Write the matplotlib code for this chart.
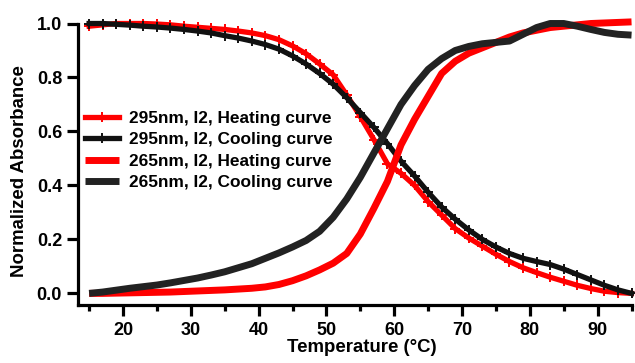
import matplotlib
matplotlib.use("Agg")
import matplotlib.pyplot as plt
from matplotlib.ticker import MultipleLocator

plt.rcParams['font.family'] = ['Liberation Sans', 'DejaVu Sans']
plt.rcParams['font.weight'] = 'bold'

temperature = list(range(15, 96, 2))

heat_295 = [0.99, 0.995, 1.0, 1.0, 1.0, 0.998, 0.995, 0.99, 0.986, 0.982,
            0.978, 0.972, 0.965, 0.955, 0.94, 0.917, 0.888, 0.85, 0.81, 0.735,
            0.655, 0.57, 0.48, 0.445, 0.40, 0.34, 0.29, 0.24, 0.205, 0.175,
            0.145, 0.118, 0.095, 0.077, 0.06, 0.045, 0.03, 0.018, 0.008, 0.003, 0.0]

cool_295 = [1.0, 1.0, 0.997, 0.994, 0.99, 0.987, 0.983, 0.978, 0.972, 0.965,
            0.955, 0.946, 0.935, 0.922, 0.905, 0.88, 0.85, 0.815, 0.775, 0.725,
            0.67, 0.615, 0.555, 0.49, 0.435, 0.375, 0.32, 0.275, 0.235, 0.2,
            0.172, 0.148, 0.13, 0.118, 0.107, 0.09, 0.07, 0.05, 0.03, 0.013, 0.0]

heat_265 = [0.0, 0.0, 0.001, 0.002, 0.003, 0.004, 0.005, 0.007, 0.009, 0.011,
            0.013, 0.016, 0.019, 0.024, 0.033, 0.047, 0.065, 0.087, 0.112, 0.148,
            0.22, 0.315, 0.415, 0.55, 0.645, 0.73, 0.815, 0.86, 0.89, 0.91,
            0.93, 0.95, 0.965, 0.975, 0.985, 0.99, 0.995, 1.0, 1.002, 1.004, 1.006]

cool_265 = [0.0, 0.005, 0.012, 0.019, 0.025, 0.031, 0.039, 0.048, 0.057, 0.068,
            0.08, 0.095, 0.11, 0.13, 0.15, 0.172, 0.196, 0.23, 0.282, 0.35,
            0.43, 0.52, 0.61, 0.70, 0.77, 0.83, 0.87, 0.90, 0.915, 0.925,
            0.93, 0.935, 0.96, 0.985, 1.0, 1.0, 0.99, 0.978, 0.967, 0.96, 0.957]

labels = ["295nm, I2, Heating curve", "295nm, I2, Cooling curve",
          "265nm, I2, Heating curve", "265nm, I2, Cooling curve"]

W, H = 635, 363
fig = plt.figure(figsize=(W / 100, H / 100), dpi=100)
ax = fig.add_axes([78 / W, 1 - 305 / H, (632 - 78) / W, (305 - 23.5) / H])

ax.plot(temperature, heat_295, color='#ff0000', lw=3.8, marker='+', ms=7, mew=1.4,
        label=labels[0], clip_on=False)
ax.plot(temperature, cool_295, color='#111111', lw=3.8, marker='+', ms=7, mew=1.4,
        label=labels[1], clip_on=False)
ax.plot(temperature, heat_265, color='#ff0000', lw=5, label=labels[2], clip_on=False,
        solid_capstyle='butt', solid_joinstyle='round')
ax.plot(temperature, cool_265, color='#222222', lw=5, label=labels[3], clip_on=False,
        solid_capstyle='butt', solid_joinstyle='round')

ax.set_xlim(13.36, 95.07)
ax.set_ylim(-0.043, 1.0)
ax.xaxis.set_major_locator(MultipleLocator(10))
ax.xaxis.set_minor_locator(MultipleLocator(5))
ax.set_yticks([0.0, 0.2, 0.4, 0.6, 0.8, 1.0])
ax.yaxis.set_major_formatter(plt.FormatStrFormatter('%.1f'))
ax.set_xticks([20, 30, 40, 50, 60, 70, 80, 90])

for s in ['top', 'right']:
    ax.spines[s].set_visible(False)
for s in ['left', 'bottom']:
    ax.spines[s].set_linewidth(2.3)

ax.tick_params(axis='both', which='major', direction='out', length=8, width=2.3,
               labelsize=13)
ax.tick_params(axis='x', which='minor', direction='out', length=4.5, width=2.3)
ax.tick_params(axis='x', which='major', pad=4)
ax.tick_params(axis='y', which='major', pad=3.5)
for lab in ax.get_xticklabels() + ax.get_yticklabels():
    lab.set_fontweight('bold')

fig.text(362 / W, 1 - 347 / H, "Temperature (°C)", ha='center', va='center',
         fontsize=13.4, fontweight='bold')
fig.text(20 / W, 1 - 171 / H, "Normalized Absorbance", ha='center', va='center',
         rotation=90, fontsize=13.4, fontweight='bold')

leg = ax.legend(loc='upper left', bbox_to_anchor=(85 / W, 1 - 111 / H),
                bbox_transform=fig.transFigure, frameon=False,
                prop={'size': 12.4, 'weight': 'bold'}, handlelength=2.0,
                handletextpad=0.55, labelspacing=0.36, borderpad=0, borderaxespad=0)

fig.savefig("out.png", dpi=100)
